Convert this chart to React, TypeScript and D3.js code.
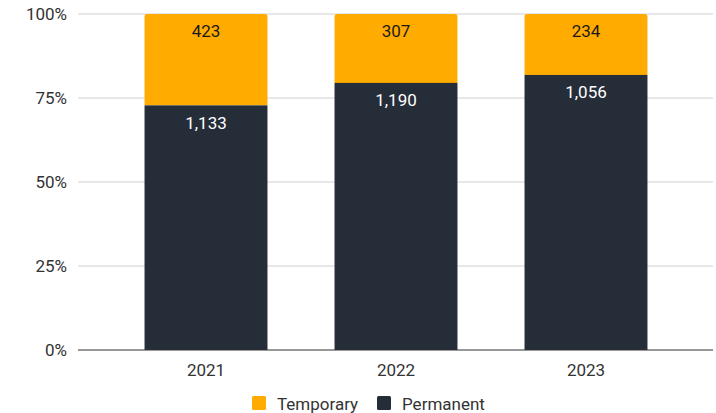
import React from "react";
import * as d3 from "d3";

const years = ["2021", "2022", "2023"];
const temporary = [423, 307, 234];
const permanent = [1133, 1190, 1056];
const yTicks = [0, 0.25, 0.5, 0.75, 1];

const W = 716, H = 413;
const FONT = "Roboto, 'Noto Sans', sans-serif";
const ORANGE = "#FFAB00";
const DARK = "#252D38";
const FS = 17;

export default function App() {
  const x = d3.scaleBand<string>().domain(years).range([111, 681]).paddingInner(0.353).paddingOuter(0.1765);
  const y = d3.scaleLinear().domain([0, 1]).range([350, 14]);
  const fmt = d3.format(",");
  const bw = x.bandwidth();
  const r = 2.5;
  return (
    <svg width={W} height={H} style={{ position: "absolute", left: 0, top: 0 }} fontFamily={FONT}>
      <rect width={W} height={H} fill="#fff" />
      {yTicks.map((t) => (
        <g key={t}>
          {t > 0 && <line x1={78} x2={713} y1={y(t)} y2={y(t)} stroke="#d0d0d0" strokeWidth={1} />}
          <text x={67} y={y(t)} dy="0.35em" textAnchor="end" fontSize={FS} fill="#333">
            {d3.format(".0%")(t)}
          </text>
        </g>
      ))}
      {years.map((yr, i) => {
        const tot = temporary[i] + permanent[i];
        const pShare = permanent[i] / tot;
        const x0 = x(yr)!;
        const yTop = y(1);
        const yMid = y(pShare);
        const yBot = y(0);
        const path = `M${x0},${yMid}V${yTop + r}Q${x0},${yTop} ${x0 + r},${yTop}H${x0 + bw - r}Q${x0 + bw},${yTop} ${x0 + bw},${yTop + r}V${yMid}Z`;
        return (
          <g key={yr}>
            <path d={path} fill={ORANGE} />
            <rect x={x0} y={yMid} width={bw} height={yBot - yMid} fill={DARK} />
            <text x={x0 + bw / 2} y={yTop + 23} textAnchor="middle" fontSize={FS} fill="#1a1a1a">
              {fmt(temporary[i])}
            </text>
            <text x={x0 + bw / 2} y={yMid + 23.5} textAnchor="middle" fontSize={FS} fill="#fff">
              {fmt(permanent[i])}
            </text>
            <text x={x0 + bw / 2} y={376} textAnchor="middle" fontSize={FS} fill="#333">
              {yr}
            </text>
          </g>
        );
      })}
      <line x1={78} x2={713} y1={y(0)} y2={y(0)} stroke="#333" strokeWidth={1.2} />
      <rect x={252} y={396} width={14} height={14} rx={1.5} fill={ORANGE} />
      <text x={277} y={409.5} fontSize={FS} fill="#333">Temporary</text>
      <rect x={377} y={396} width={14} height={14} rx={1.5} fill={DARK} />
      <text x={402} y={409.5} fontSize={FS} fill="#333">Permanent</text>
    </svg>
  );
}
